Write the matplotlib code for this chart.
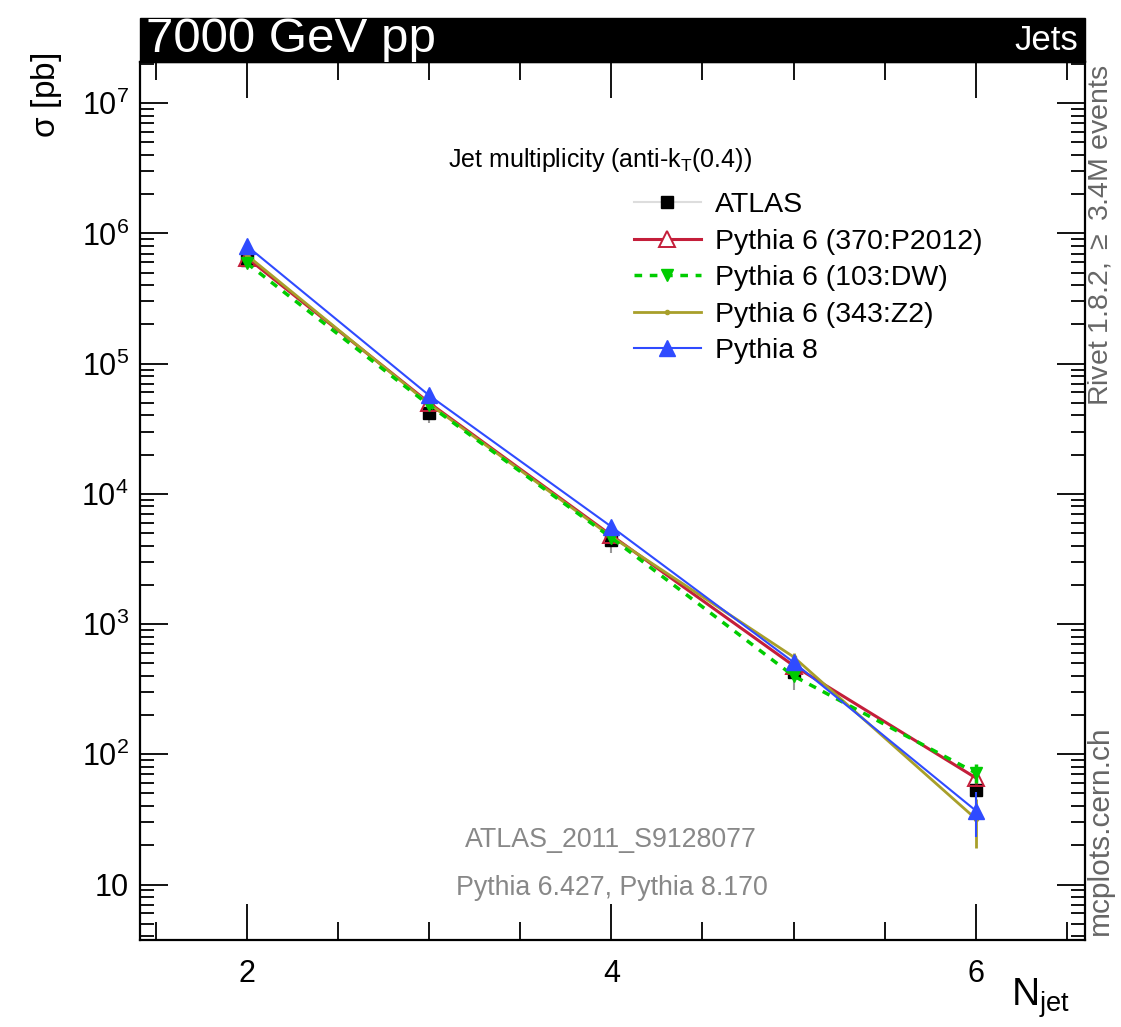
import matplotlib
matplotlib.use("Agg")
import matplotlib.pyplot as plt
from matplotlib.patches import Rectangle
from matplotlib.lines import Line2D
from matplotlib.ticker import FixedLocator, LogLocator, NullFormatter, FixedFormatter
import numpy as np

plt.rcParams['font.family'] = ['Liberation Sans', 'DejaVu Sans']
plt.rcParams['mathtext.fontset'] = 'custom'
plt.rcParams['mathtext.rm'] = 'Liberation Sans'
plt.rcParams['mathtext.it'] = 'Liberation Sans'

# ---- data ----
njet = [2, 3, 4, 5, 6]
atlas = [6.3e5, 4.2e4, 4.4e3, 430, 53]
atlas_err = [6.0e4, 7.0e3, 9.0e2, 120, 15]
p6_p2012 = [6.5e5, 5.0e4, 4.8e3, 480, 66]
p6_p2012_err = [2.0e3, 4.0e2, 60, 15, 7]
p6_dw = [5.9e5, 4.8e4, 4.6e3, 400, 72]
p6_dw_err = [2.0e3, 4.0e2, 60, 20, 12]
p6_z2 = [6.8e5, 4.9e4, 4.7e3, 560, 32]
p6_z2_err = [2.0e3, 4.0e2, 60, 40, 13]
p8 = [8.0e5, 5.7e4, 5.6e3, 510, 37]
p8_err = [2.0e3, 4.0e2, 60, 25, 14]

labels = ["ATLAS", "Pythia 6 (370:P2012)", "Pythia 6 (103:DW)",
          "Pythia 6 (343:Z2)", "Pythia 8"]

W, H = 1121, 1027
fig = plt.figure(figsize=(W / 100, H / 100), dpi=100)
ax = fig.add_axes([140 / W, 1 - 940 / H, (1085 - 140) / W, (940 - 62) / H])

red = '#c41e3a'
green = '#00cc00'
olive = '#a89f2a'
blue = '#2f4bff'

ax.errorbar(njet, atlas, yerr=atlas_err, ls='none', marker='s', ms=9,
            mfc='black', mec='black', ecolor='#999999', elinewidth=1.5,
            capsize=0, zorder=3)
ax.errorbar(njet, p6_p2012, yerr=p6_p2012_err, color=red, lw=2.2,
            marker='^', ms=11, mfc='none', mec=red, mew=1.4,
            capsize=0, zorder=4)
ax.errorbar(njet, p6_dw, yerr=p6_dw_err, color=green, lw=2.5,
            ls=(0, (2.2, 2.2)), marker='v', ms=8.5, mfc=green, mec=green,
            capsize=0, zorder=5)
ax.errorbar(njet, p6_z2, yerr=p6_z2_err, color=olive, lw=2.0,
            marker='o', ms=3, mfc=olive, mec=olive,
            capsize=0, zorder=4)
ax.errorbar(njet, p8, yerr=p8_err, color=blue, lw=1.5,
            marker='^', ms=11, mfc=blue, mec=blue,
            capsize=0, zorder=6)

ax.set_yscale('log')
ax.set_xlim(1.413, 6.6)
ax.set_ylim(3.75, 2.07e7)

# x ticks
ax.xaxis.set_major_locator(FixedLocator([2, 4, 6]))
ax.xaxis.set_minor_locator(FixedLocator([1.5, 2.5, 3, 3.5, 4.5, 5, 5.5, 6.5]))
ax.set_xticklabels(['2', '4', '6'])
# y ticks
ax.yaxis.set_major_locator(FixedLocator([10, 1e2, 1e3, 1e4, 1e5, 1e6, 1e7]))
ax.yaxis.set_major_formatter(FixedFormatter(['10', r'$10^{2}$', r'$10^{3}$', r'$10^{4}$',
                                             r'$10^{5}$', r'$10^{6}$', r'$10^{7}$']))
ax.yaxis.set_minor_locator(LogLocator(base=10, subs=np.arange(2, 10)))
ax.yaxis.set_minor_formatter(NullFormatter())

ax.tick_params(which='both', direction='in', top=True, right=True, width=1.3, colors='black')
ax.tick_params(axis='x', which='major', length=26, labelsize=22, pad=14)
ax.tick_params(axis='x', which='minor', length=13)
ax.tick_params(axis='y', which='major', length=20, labelsize=22, pad=8)
ax.tick_params(axis='y', which='minor', length=10)
for s in ax.spines.values():
    s.set_linewidth(1.6)

# header bar
fig.patches.append(Rectangle((140 / W, 1 - 62 / H), (1085 - 140) / W, 44 / H,
                             transform=fig.transFigure, facecolor='black',
                             edgecolor='black', zorder=10))
fig.text(146 / W, 1 - 40 / H, "7000 GeV pp", color='white', fontsize=35.5,
         va='center', ha='left', zorder=11)
fig.text(1078 / W, 1 - 40 / H, "Jets", color='white', fontsize=25,
         va='center', ha='right', zorder=11)

# axis labels
fig.text(46 / W, 1 - 95 / H, r"$\sigma$ [pb]", rotation=90, fontsize=24,
         va='center', ha='center')
fig.text(1040 / W, 1 - 998 / H, r"N$_{\mathrm{jet}}$", fontsize=28,
         va='center', ha='center')

# side texts
fig.text(1100 / W, 1 - 235 / H, r"Rivet 1.8.2, $\geq$ 3.4M events", rotation=90,
         fontsize=20.5, color='#666666', va='center', ha='center')
fig.text(1100 / W, 1 - 830 / H, "mcplots.cern.ch", rotation=90,
         fontsize=21.5, color='#666666', va='center', ha='center')

# in-plot texts
fig.text(600 / W, 1 - 160 / H, r"Jet multiplicity (anti-k$_{T}$(0.4))",
         fontsize=18, ha='center', va='center')
fig.text(611 / W, 1 - 840 / H, "ATLAS_2011_S9128077", fontsize=19.3,
         color='#888888', ha='center', va='center')
fig.text(612 / W, 1 - 888 / H, "Pythia 6.427, Pythia 8.170", fontsize=19.3,
         color='#888888', ha='center', va='center')

handles = [
    Line2D([], [], color='#dddddd', lw=1.5, marker='s', ms=9, mfc='black', mec='black'),
    Line2D([], [], color=red, lw=2.2, marker='^', ms=12, mfc='white', mec=red, mew=1.4),
    Line2D([], [], color=green, lw=2.5, ls=(0, (2.2, 2.2)), marker='v', ms=9, mfc=green, mec=green),
    Line2D([], [], color=olive, lw=2.0, marker='o', ms=3, mfc=olive, mec=olive),
    Line2D([], [], color=blue, lw=1.5, marker='^', ms=12, mfc=blue, mec=blue),
]
leg = ax.legend(handles, labels,
                loc='upper left', bbox_to_anchor=(634 / W, 1 - 192 / H),
                bbox_transform=fig.transFigure, frameon=False, fontsize=20.5,
                handlelength=2.35, handletextpad=0.5, labelspacing=0.37,
                borderpad=0, borderaxespad=0)

fig.savefig("out.png", dpi=100)
